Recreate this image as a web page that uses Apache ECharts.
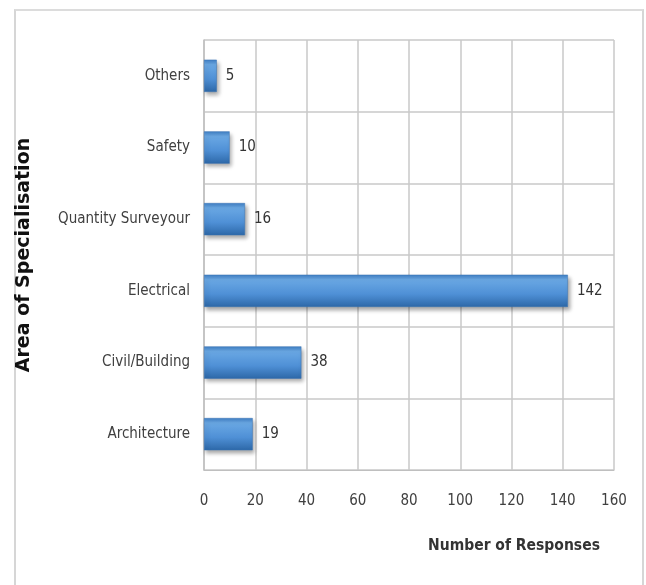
<!DOCTYPE html>
<html>
<head>
<meta charset="utf-8">
<script src="https://cdn.jsdelivr.net/npm/echarts@6/dist/echarts.min.js"></script>
<style>
  html, body { margin: 0; padding: 0; background: #ffffff; }
  #frame { position: absolute; left: 14px; top: 9px; width: 630px; height: 600px;
           border-left: 2px solid #d6d6d6; border-top: 2px solid #dcdcdc; border-right: 2px solid #d6d6d6;
           box-sizing: border-box; }
  #chart { position: absolute; left: 0; top: 0; width: 646px; height: 585px; }
</style>
</head>
<body>
<div id="frame"></div>
<div id="chart"></div>
<script>
// Survey respondents by area of specialisation
const categories = ['Architecture', 'Civil/Building', 'Electrical', 'Quantity Surveyour', 'Safety', 'Others'];
const responses = [19, 38, 142, 16, 10, 5];
const xTicks = [0, 20, 40, 60, 80, 100, 120, 140, 160];

const fontNarrow = '"Liberation Sans Narrow", "DejaVu Sans Condensed", "Roboto Condensed", sans-serif';

const chart = echarts.init(document.getElementById('chart'), null, { renderer: 'canvas' });
chart.setOption({
  animation: false,
  backgroundColor: 'transparent',
  grid: { left: 204, right: 32, top: 40, bottom: 115, containLabel: false },
  xAxis: {
    type: 'value',
    min: xTicks[0],
    max: xTicks[xTicks.length - 1],
    interval: 20,
    name: 'Number of Responses',
    nameLocation: 'middle',
    nameGap: 68,
    nameTextStyle: { fontFamily: fontNarrow, fontSize: 15.5, fontWeight: 'bold', color: '#333', padding: [0, 0, 0, 210] },
    axisLine: { show: true, lineStyle: { color: '#bfbfbf', width: 1 } },
    axisTick: { show: false },
    axisLabel: { fontFamily: fontNarrow, fontSize: 15, color: '#404040', margin: 24 },
    splitLine: { show: true, lineStyle: { color: '#c8c8c8', width: 1.5 } }
  },
  yAxis: {
    type: 'category',
    data: categories,
    name: 'Area of Specialisation',
    nameLocation: 'middle',
    nameGap: 170,
    nameRotate: 90,
    nameTextStyle: { fontFamily: '"DejaVu Sans", sans-serif', fontSize: 19, fontWeight: 'bold', color: '#111' },
    axisLine: { show: true, lineStyle: { color: '#bfbfbf', width: 1.5 } },
    axisTick: { show: false },
    axisLabel: { fontFamily: fontNarrow, fontSize: 15, color: '#404040', margin: 14 },
    splitLine: { show: true, lineStyle: { color: '#c8c8c8', width: 1.5 } }
  },
  series: [{
    type: 'bar',
    data: responses,
    barWidth: '45%',
    itemStyle: {
      color: new echarts.graphic.LinearGradient(0, 0, 0, 1, [
        { offset: 0, color: '#3f7fc4' },
        { offset: 0.15, color: '#6aa8e4' },
        { offset: 0.6, color: '#4f90d6' },
        { offset: 1, color: '#2d68a8' }
      ]),
      borderColor: '#3a74b4',
      borderWidth: 0.5,
      shadowColor: 'rgba(0,0,0,0.35)',
      shadowBlur: 4,
      shadowOffsetX: 2,
      shadowOffsetY: 3
    },
    label: {
      show: true,
      position: 'right',
      distance: 9,
      fontFamily: fontNarrow,
      fontSize: 15,
      color: '#333'
    }
  }]
});
</script>
</body>
</html>
